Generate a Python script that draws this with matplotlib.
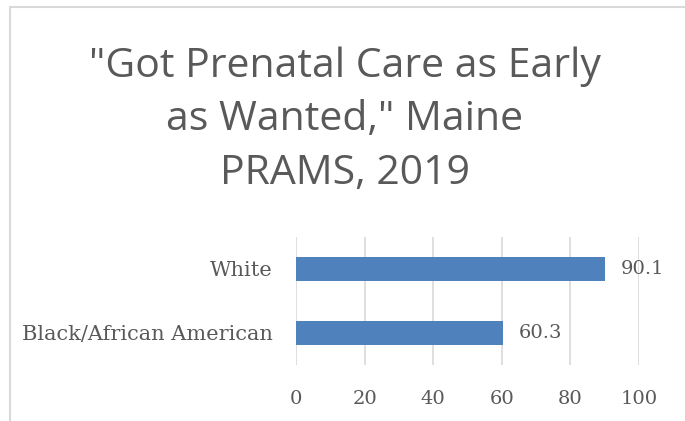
import matplotlib.pyplot as plt
from matplotlib.patches import Rectangle

categories = ['Black/African American', 'White']
values = [60.3, 90.1]
xticks = [0, 20, 40, 60, 80, 100]
title = '"Got Prenatal Care as Early\nas Wanted," Maine\nPRAMS, 2019'

gray = '#595959'
fig = plt.figure(figsize=(6.85, 4.21), dpi=100)
ax = fig.add_axes([296 / 685, 1 - 365 / 421, (639 - 296) / 685, 128 / 421])

ax.barh(range(len(categories)), values, height=0.36, color='#4F81BD', zorder=3)
for i, v in enumerate(values):
    ax.text(v + 4.5, i, f'{v:.1f}', va='center', ha='left',
            fontsize=14, family='DejaVu Serif', color=gray)

ax.set_xlim(0, 100)
ax.set_ylim(-0.5, 1.5)
ax.set_xticks(xticks)
ax.set_yticks(range(len(categories)))
ax.set_yticklabels(categories)
ax.grid(axis='x', color='#D9D9D9', linewidth=1.2, zorder=0)
for s in ax.spines.values():
    s.set_visible(False)
ax.tick_params(length=0, labelsize=14, labelcolor=gray, pad=16)
ax.tick_params(axis='y', labelsize=15, pad=17)
ax.tick_params(axis='x', pad=18)
for lab in ax.get_xticklabels() + ax.get_yticklabels():
    lab.set_family('DejaVu Serif')

fig.text(0.503, 1 - 120 / 421, title, ha='center', va='center',
         fontsize=29.5, family='Open Sans', color=gray, linespacing=1.42)

# chart border
fig.patches.append(Rectangle((10 / 685, -0.1), 1.1, 1 - 7 / 421 + 0.1,
                             transform=fig.transFigure, fill=False,
                             edgecolor='#D9D9D9', linewidth=1.5))

fig.savefig('out.png', dpi=100)
